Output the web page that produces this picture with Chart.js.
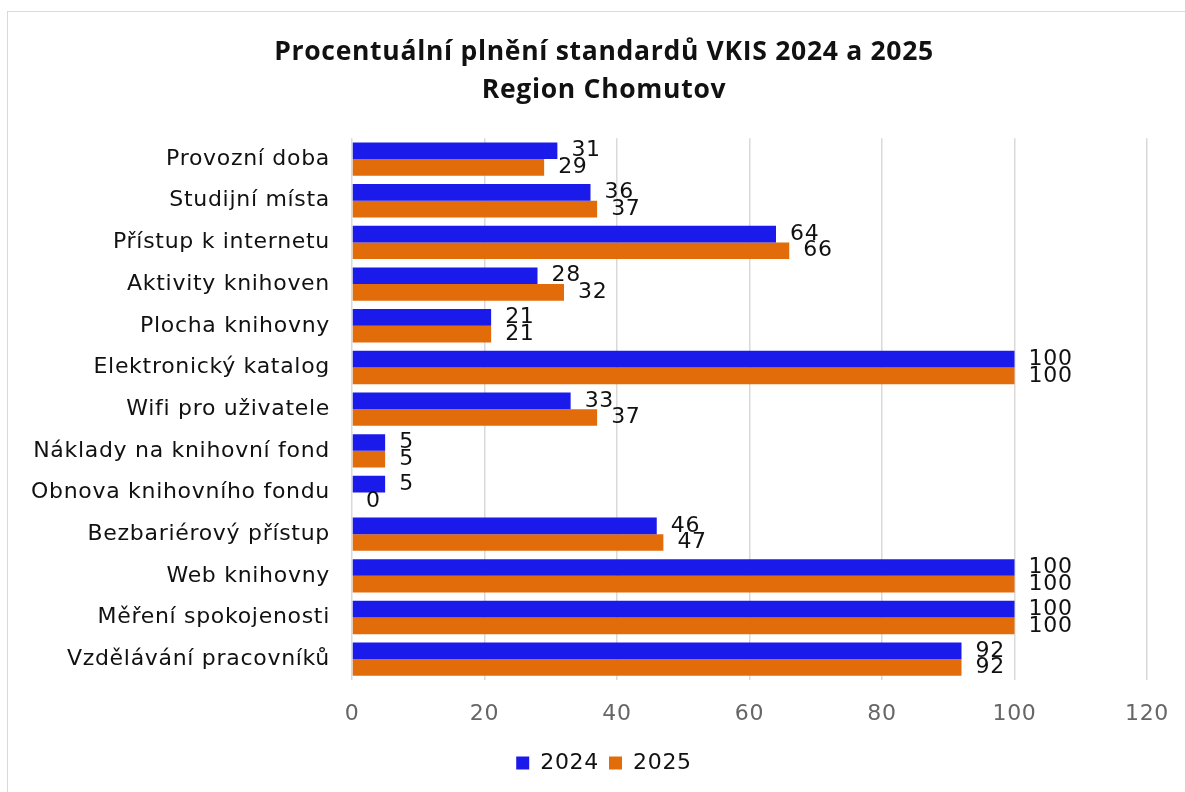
<!DOCTYPE html>
<html>
<head>
<meta charset="utf-8">
<script src="https://cdn.jsdelivr.net/npm/chart.js@4.4.1/dist/chart.umd.min.js"></script>
<style>
html,body{margin:0;padding:0;background:#fff;overflow:hidden;}
#frame{position:absolute;left:7px;top:11px;width:1200px;height:800px;border:1.5px solid #d9d9d9;box-sizing:border-box;}
#wrap{position:absolute;left:8px;top:12px;width:1192px;height:790px;}
</style>
</head>
<body>
<div id="frame"></div>
<div id="wrap"><canvas id="c"></canvas></div>
<script>
const categories = ["Provozní doba","Studijní místa","Přístup k internetu","Aktivity knihoven","Plocha knihovny","Elektronický katalog","Wifi pro uživatele","Náklady na knihovní fond","Obnova knihovního fondu","Bezbariérový přístup","Web knihovny","Měření spokojenosti","Vzdělávání pracovníků"];
const values2024 = [31,36,64,28,21,100,33,5,5,46,100,100,92];
const values2025 = [29,37,66,32,21,100,37,5,0,47,100,100,92];
const seriesNames = ["2024","2025"];
const titleLines = ["Procentuální plnění standardů VKIS 2024 a 2025","Region Chomutov"];

const LABEL_FONT = "DejaVu Sans";
const LABEL_SIZE = 22;

const spacing = {
  id: 'spacing',
  beforeLayout(chart) { chart.ctx.letterSpacing = '0.7px'; },
  beforeDraw(chart) { chart.ctx.letterSpacing = '0.7px'; }
};

const valueLabels = {
  id: 'valueLabels',
  afterDatasetsDraw(chart) {
    const ctx = chart.ctx;
    ctx.save();
    ctx.font = LABEL_SIZE + "px '" + LABEL_FONT + "'";
    ctx.fillStyle = "#111";
    ctx.textAlign = "left";
    ctx.textBaseline = "middle";
    chart.data.datasets.forEach((ds, di) => {
      const meta = chart.getDatasetMeta(di);
      meta.data.forEach((el, i) => {
        ctx.fillText(String(ds.data[i]), el.x + 14, el.y);
      });
    });
    ctx.restore();
  }
};

new Chart(document.getElementById('c'), {
  type: 'bar',
  data: {
    labels: categories,
    datasets: [
      {label: seriesNames[0], data: values2024, backgroundColor: '#1a1aeb', categoryPercentage: 0.8, barPercentage: 1.0},
      {label: seriesNames[1], data: values2025, backgroundColor: '#e36c0a', categoryPercentage: 0.8, barPercentage: 1.0}
    ]
  },
  options: {
    indexAxis: 'y',
    responsive: true,
    maintainAspectRatio: false,
    animation: false,
    layout: {padding: {left: 0, right: 0, top: 14, bottom: 18}},
    plugins: {
      title: {
        display: true,
        text: titleLines,
        color: '#111',
        font: {family: "Open Sans", size: 26.5, weight: 'bold', lineHeight: 1.42},
        padding: {top: 8, bottom: 29}
      },
      legend: {
        position: 'bottom',
        labels: {
          color: '#111',
          font: {family: LABEL_FONT, size: LABEL_SIZE},
          boxWidth: 13, boxHeight: 13, padding: 10
        }
      },
      tooltip: {enabled: false}
    },
    scales: {
      x: {
        min: 0, max: 120,
        ticks: {stepSize: 20, color: '#666', font: {family: LABEL_FONT, size: LABEL_SIZE}, padding: 21},
        grid: {color: '#d9d9d9', lineWidth: 1.5, drawTicks: false},
        border: {display: false},
        afterFit(scale) { scale.height = 62; }
      },
      y: {
        ticks: {color: '#111', font: {family: LABEL_FONT, size: LABEL_SIZE}, padding: 14},
        grid: {display: false},
        border: {display: false},
        afterFit(scale) { scale.width = 344; }
      },
      yRight: {
        type: 'category',
        axis: 'y',
        position: 'right',
        labels: categories,
        ticks: {display: false},
        grid: {display: false},
        border: {display: false},
        afterFit(scale) { scale.width = 53; }
      }
    }
  },
  plugins: [spacing, valueLabels]
});
</script>
</body>
</html>
